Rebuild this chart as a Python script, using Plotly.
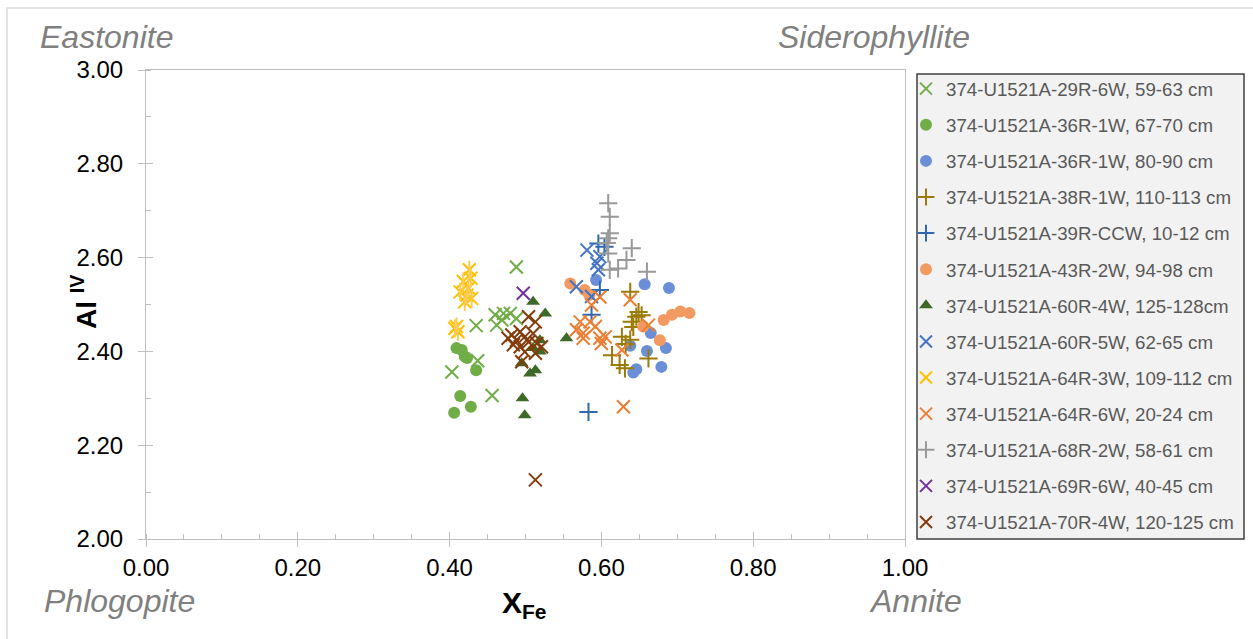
import plotly.graph_objects as go

FONT = "Liberation Sans"

names = [
    "374-U1521A-29R-6W, 59-63 cm",
    "374-U1521A-36R-1W, 67-70 cm",
    "374-U1521A-36R-1W, 80-90 cm",
    "374-U1521A-38R-1W, 110-113 cm",
    "374-U1521A-39R-CCW, 10-12 cm",
    "374-U1521A-43R-2W, 94-98 cm",
    "374-U1521A-60R-4W, 125-128cm",
    "374-U1521A-60R-5W, 62-65 cm",
    "374-U1521A-64R-3W, 109-112 cm",
    "374-U1521A-64R-6W, 20-24 cm",
    "374-U1521A-68R-2W, 58-61 cm",
    "374-U1521A-69R-6W, 40-45 cm",
    "374-U1521A-70R-4W, 120-125 cm",
]

x_29R = [0.488, 0.435, 0.403, 0.437, 0.456, 0.460, 0.471, 0.469, 0.480, 0.462, 0.488]
y_29R = [2.580, 2.455, 2.356, 2.380, 2.306, 2.478, 2.481, 2.467, 2.481, 2.456, 2.470]

x_36Ra = [0.409, 0.416, 0.420, 0.423, 0.435, 0.414, 0.428, 0.406]
y_36Ra = [2.407, 2.403, 2.389, 2.386, 2.360, 2.305, 2.282, 2.269]

x_36Rb = [0.657, 0.689, 0.665, 0.660, 0.685, 0.679, 0.646, 0.642, 0.638, 0.593]
y_36Rb = [2.543, 2.535, 2.439, 2.401, 2.407, 2.367, 2.362, 2.355, 2.412, 2.552]

x_38R = [0.638, 0.649, 0.646, 0.653, 0.640, 0.642, 0.627, 0.638, 0.632, 0.614, 0.624, 0.631, 0.662]
y_38R = [2.527, 2.484, 2.474, 2.477, 2.463, 2.452, 2.431, 2.425, 2.416, 2.392, 2.371, 2.364, 2.385]

x_39R = [0.596, 0.604, 0.598, 0.587, 0.583]
y_39R = [2.630, 2.623, 2.531, 2.478, 2.271]

x_43R = [0.559, 0.578, 0.584, 0.655, 0.677, 0.682, 0.693, 0.704, 0.716]
y_43R = [2.545, 2.531, 2.520, 2.453, 2.424, 2.467, 2.478, 2.485, 2.482]

x_60R4 = [0.510, 0.526, 0.519, 0.510, 0.519, 0.495, 0.506, 0.513, 0.496, 0.499, 0.554]
y_60R4 = [2.506, 2.481, 2.424, 2.407, 2.400, 2.375, 2.353, 2.360, 2.300, 2.264, 2.428]

x_60R5 = [0.581, 0.594, 0.596, 0.567, 0.587, 0.598]
y_60R5 = [2.616, 2.588, 2.574, 2.538, 2.517, 2.602]

x_64R3 = [0.426, 0.428, 0.418, 0.425, 0.414, 0.423, 0.429, 0.420, 0.409, 0.411, 0.407]
y_64R3 = [2.574, 2.556, 2.549, 2.535, 2.527, 2.520, 2.513, 2.506, 2.453, 2.442, 2.449]

x_64R6 = [0.598, 0.587, 0.572, 0.585, 0.567, 0.576, 0.592, 0.598, 0.605, 0.600, 0.638, 0.662, 0.627, 0.629, 0.576]
y_64R6 = [2.516, 2.499, 2.463, 2.463, 2.446, 2.439, 2.453, 2.428, 2.431, 2.417, 2.510, 2.456, 2.403, 2.282, 2.428]

x_68R = [0.609, 0.611, 0.611, 0.609, 0.607, 0.640, 0.633, 0.622, 0.611, 0.609, 0.660]
y_68R = [2.716, 2.687, 2.652, 2.641, 2.631, 2.620, 2.595, 2.577, 2.574, 2.609, 2.570]

x_69R = [0.497]
y_69R = [2.524]

x_70R = [0.504, 0.513, 0.493, 0.482, 0.477, 0.488, 0.499, 0.510, 0.504, 0.493, 0.515, 0.521, 0.499, 0.513, 0.495, 0.484, 0.513]
y_70R = [2.474, 2.463, 2.442, 2.435, 2.428, 2.424, 2.431, 2.438, 2.420, 2.410, 2.417, 2.410, 2.399, 2.396, 2.378, 2.414, 2.126]

xs = [x_29R, x_36Ra, x_36Rb, x_38R, x_39R, x_43R, x_60R4, x_60R5, x_64R3, x_64R6, x_68R, x_69R, x_70R]
ys = [y_29R, y_36Ra, y_36Rb, y_38R, y_39R, y_43R, y_60R4, y_60R5, y_64R3, y_64R6, y_68R, y_69R, y_70R]

colors = ["#70AD47", "#70AD47", "#6A8FD6", "#9C7A06", "#2F67B1", "#F29A62", "#3D6A27",
          "#4472C4", "#FFC000", "#ED7D31", "#999999", "#7030A0", "#843C0C"]
symbols = ["x-thin-open", "circle", "circle", "cross-thin-open", "cross-thin-open", "circle",
           "triangle-up", "x-thin-open", "x-thin-open", "x-thin-open", "cross-thin-open",
           "x-thin-open", "x-thin-open"]

fig = go.Figure()
for i, (nm, xv, yv, c, s) in enumerate(zip(names, xs, ys, colors, symbols)):
    if s in ("circle", "triangle-up"):
        mk = dict(symbol=s, size=12, color=c, line=dict(width=0))
    else:
        mk = dict(symbol=s, size=13, color=c, line=dict(width=2, color=c))
    fig.add_trace(go.Scatter(x=xv, y=yv, mode="markers", name=nm, marker=mk,
                             legendgroup="g%d" % i))
    if i == 8:
        # Excel-style star: x with a vertical stroke
        fig.add_trace(go.Scatter(x=xv, y=yv, mode="markers", showlegend=False,
                                 legendgroup="g%d" % i, hoverinfo="skip",
                                 marker=dict(symbol="line-ns-open", size=13,
                                             line=dict(width=2, color=c))))

# overlay axes for the inner half of the crossing major ticks
fig.add_trace(go.Scatter(x=[None], y=[None], xaxis="x2", yaxis="y2", showlegend=False,
                         hoverinfo="skip"))

L, R, T, B = 146, 905, 70, 539
W, H = 1253, 639
pw, ph = R - L, B - T

def px(x):
    return (x - L) / pw

def py(y):
    return (B - y) / ph

axis_common = dict(showgrid=False, zeroline=False, showline=True, linecolor="#BFBFBF",
                   linewidth=1, mirror=True, ticks="outside", ticklen=7, tickcolor="#BFBFBF",
                   tickwidth=1, tickfont=dict(family=FONT, size=24, color="#000000"))

def note(text, x, y, size, color="#808080", angle=0):
    return dict(text=text, x=px(x), y=py(y), xref="paper", yref="paper",
                xanchor="center", yanchor="middle", showarrow=False, textangle=angle,
                font=dict(family=FONT, size=size, color=color))

fig.update_layout(
    width=W, height=H,
    margin=dict(l=L, r=W - R, t=T, b=H - B),
    paper_bgcolor="white", plot_bgcolor="white",
    font=dict(family=FONT),
    xaxis=dict(range=[0, 1], dtick=0.2, tick0=0, tickformat=".2f",
               minor=dict(ticks="inside", ticklen=5, dtick=0.05, tickcolor="#BFBFBF"),
               ticklabelstandoff=0, **axis_common),
    yaxis=dict(range=[2, 3], dtick=0.2, tick0=2, tickformat=".2f",
               minor=dict(ticks="inside", ticklen=5, dtick=0.1, tickcolor="#BFBFBF"),
               ticklabelstandoff=10, **axis_common),
    xaxis2=dict(range=[0, 1], dtick=0.2, tick0=0, overlaying="x", anchor="y", side="bottom",
                showgrid=False, zeroline=False, showline=False, showticklabels=False,
                ticks="inside", ticklen=7, tickcolor="#BFBFBF"),
    yaxis2=dict(range=[2, 3], dtick=0.2, tick0=2, overlaying="y", anchor="x", side="left",
                showgrid=False, zeroline=False, showline=False, showticklabels=False,
                ticks="inside", ticklen=7, tickcolor="#BFBFBF"),
    showlegend=True,
    legend=dict(x=px(906), y=py(70), xanchor="left", yanchor="top",
                bgcolor="rgba(0,0,0,0)", borderwidth=0, maxheight=620,
                font=dict(family=FONT, size=18.7, color="#595959"),
                tracegroupgap=8.8, itemsizing="constant"),
    shapes=[
        dict(type="rect", xref="paper", yref="paper", x0=px(7), x1=px(1262), y0=py(648), y1=py(8),
             line=dict(color="#D9D9D9", width=1.5), fillcolor="rgba(0,0,0,0)", layer="below"),
        dict(type="rect", xref="paper", yref="paper", x0=px(917), x1=px(1244), y0=py(539), y1=py(74),
             line=dict(color="#404040", width=1.5), fillcolor="#F2F2F2", layer="below"),
    ],
    annotations=[
        note("<i>Eastonite</i>", 106, 37, 32),
        note("<i>Siderophyllite</i>", 874, 37, 32),
        note("<i>Phlogopite</i>", 119, 601, 32),
        note("<i>Annite</i>", 915, 601, 32),
        note("<b>X<sub>Fe</sub></b>", 524, 604, 30, "#000000"),
        note("<b>Al <sup>IV</sup></b>", 84, 302, 28, "#000000", -90),
    ],
)

fig.write_html("out.html")
